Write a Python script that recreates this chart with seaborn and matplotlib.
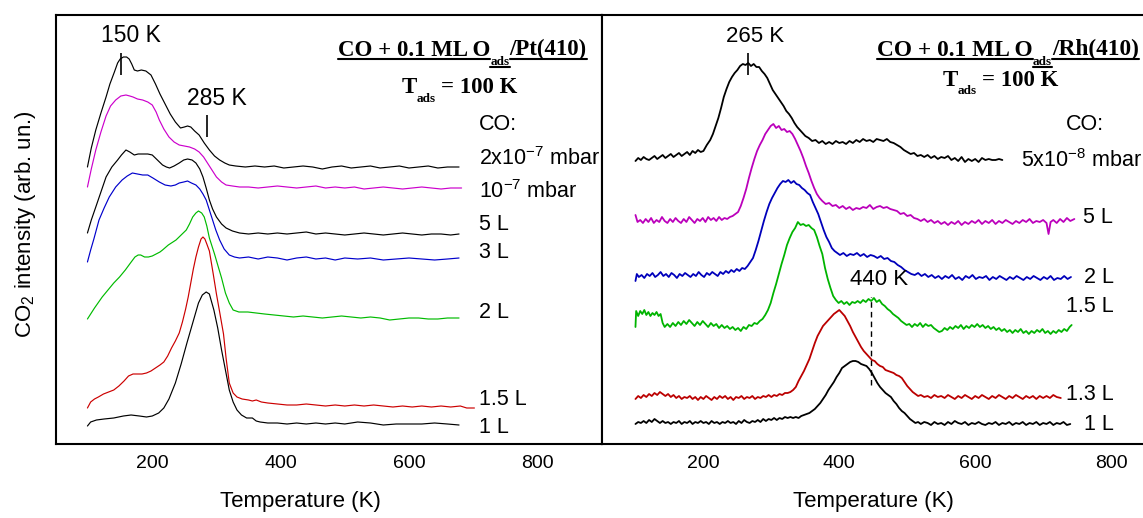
import matplotlib
matplotlib.use("Agg")
import matplotlib.pyplot as plt
import seaborn as sns
import numpy as np
from matplotlib.lines import Line2D

# ---------------- data (T in K, CO2 signal in arb. units, offset as displayed) -------------
# Pt(410) panel
pt_2e7 = [(99,277),(105,296),(112,314),(120,331),(128,347),(134,360),(141,372),(146,381),(150,385),(155,387),(160,387),(164,385),(168,380),(172,374),(177,373),(183,374),(190,373),(198,369),(205,360),(212,350),(220,340),(228,330),(236,322),(244,316),(250,317),(255,318),(260,317),(266,313),(273,309),(281,301),(289,294),(297,288),(305,284),(313,281),(320,279),(330,278),(345,277),(360,278),(375,277),(390,278),(405,276),(420,277),(435,278),(450,277),(465,275),(480,277),(495,278),(510,276),(525,277),(540,278),(555,276),(570,277),(585,278),(600,276),(615,277),(630,278),(645,276),(660,277),(678,277)]
pt_1e7 = [(99,257),(105,275),(112,294),(120,312),(128,328),(135,338),(143,344),(151,348),(159,349),(165,348),(170,347),(177,345),(185,344),(193,342),(200,339),(206,332),(211,324),(218,315),(226,307),(234,302),(242,299),(250,298),(258,297),(266,295),(273,292),(280,287),(286,281),(293,274),(300,267),(308,262),(315,259),(325,258),(336,257),(350,257),(365,256),(380,257),(395,258),(410,257),(425,256),(440,257),(455,258),(470,256),(485,257),(500,256),(515,257),(530,255),(545,256),(560,257),(575,256),(590,255),(605,256),(620,257),(635,256),(650,255),(665,256),(682,256)]
pt_5L = [(99,211),(105,224),(112,237),(120,252),(128,267),(137,277),(146,284),(152,289),(159,294),(165,292),(172,289),(178,290),(185,290),(193,290),(200,289),(208,284),(216,279),(222,277),(227,276),(234,278),(242,281),(249,284),(255,285),(262,284),(268,281),(274,275),(279,267),(284,256),(289,244),(294,235),(300,227),(308,220),(315,216),(325,213),(336,211),(350,210),(365,211),(380,210),(395,211),(410,210),(425,211),(440,212),(455,210),(470,211),(485,210),(500,209),(515,210),(530,211),(545,210),(560,209),(575,210),(590,211),(605,210),(620,209),(635,210),(650,210),(665,209),(678,210)]
pt_3L = [(99,182),(104,194),(109,205),(117,224),(125,236),(133,247),(143,257),(153,264),(161,268),(169,271),(177,270),(185,269),(193,269),(201,266),(211,262),(220,259),(229,258),(236,259),(242,261),(249,262),(255,263),(261,261),(268,259),(274,255),(279,250),(284,244),(289,234),(294,224),(299,214),(305,204),(312,195),(320,189),(328,187),(336,186),(350,187),(365,185),(380,187),(395,186),(410,184),(425,186),(440,187),(455,185),(470,186),(485,184),(500,186),(520,185),(540,186),(560,184),(580,185),(600,186),(620,185),(640,184),(660,185),(678,186)]
pt_2L = [(99,125),(110,136),(122,147),(131,154),(140,161),(149,167),(158,174),(166,181),(173,187),(178,189),(182,189),(188,187),(194,187),(200,188),(206,190),(212,192),(216,194),(225,199),(237,204),(245,209),(253,214),(258,220),(263,227),(268,231),(272,233),(277,231),(281,227),(285,218),(289,206),(293,198),(297,190),(302,179),(308,166),(314,151),(320,141),(326,134),(335,132),(349,132),(362,131),(375,130),(390,129),(405,128),(420,127),(435,128),(450,127),(465,126),(480,127),(495,128),(510,127),(525,126),(540,127),(555,126),(570,124),(585,125),(600,126),(615,126),(630,125),(645,125),(660,126),(678,126)]
pt_15L = [(99,36),(104,42),(110,45),(116,47),(124,50),(132,52),(140,54),(148,58),(156,63),(163,68),(170,70),(177,70),(184,70),(191,71),(198,73),(205,76),(212,79),(218,82),(224,88),(230,96),(236,103),(242,111),(247,122),(252,135),(256,147),(260,161),(264,175),(268,187),(272,197),(276,205),(279,207),(282,205),(285,200),(289,193),(295,170),(300,150),(305,132),(311,110),(315,86),(320,61),(326,51),(332,47),(340,45),(350,44),(356,43),(362,44),(370,42),(380,41),(395,40),(410,39),(425,39),(440,40),(455,39),(470,38),(485,39),(500,38),(515,39),(530,38),(545,39),(560,38),(575,37),(590,38),(605,37),(620,38),(635,37),(650,38),(665,37),(680,38),(690,36),(702,36)]
pt_1L = [(99,18),(104,22),(113,24),(125,25),(140,26),(155,28),(167,29),(180,28),(191,27),(200,28),(210,31),(218,36),(226,45),(236,61),(245,80),(254,101),(263,121),(272,141),(278,149),(284,152),(289,150),(296,134),(302,116),(308,94),(314,74),(320,54),(326,42),(332,34),(339,29),(347,26),(356,26),(362,23),(368,22),(380,21),(395,21),(410,20),(425,21),(440,20),(455,21),(470,20),(485,21),(500,20),(520,22),(540,21),(560,19),(580,20),(600,20),(620,20),(640,21),(660,20),(678,19)]

# Rh(410) panel
rh_5e8 = [(100,283),(104,286),(108,284),(112,287),(116,285),(120,284),(124,286),(128,288),(132,285),(136,287),(140,289),(144,286),(148,288),(152,290),(156,287),(160,289),(164,291),(168,288),(172,290),(176,292),(180,289),(184,293),(188,291),(192,294),(196,292),(200,293),(205,299),(210,304),(214,310),(218,318),(222,326),(226,336),(230,347),(234,355),(238,362),(242,367),(246,371),(250,374),(254,378),(258,380),(262,379),(266,381),(270,378),(274,380),(278,377),(282,377),(286,373),(290,370),(294,366),(298,360),(302,354),(306,350),(310,346),(314,342),(318,338),(322,333),(326,330),(330,326),(334,321),(338,317),(342,314),(346,311),(350,308),(355,306),(360,303),(365,304),(370,301),(375,303),(380,300),(385,302),(390,300),(395,303),(400,301),(405,302),(410,300),(415,303),(420,301),(425,304),(430,302),(435,305),(440,303),(445,304),(450,302),(455,305),(460,304),(465,303),(470,305),(475,302),(480,301),(485,299),(490,297),(495,294),(500,292),(505,290),(510,291),(515,288),(520,289),(525,287),(530,289),(535,286),(540,288),(545,285),(550,287),(555,286),(560,288),(565,284),(570,286),(575,283),(580,287),(585,282),(590,285),(595,283),(600,285),(605,282),(610,286),(615,284),(620,285),(625,284),(630,284),(635,285),(640,284)]
rh_5L = [(100,229),(103,222),(107,224),(111,221),(115,225),(119,222),(123,226),(127,221),(131,224),(135,222),(139,227),(143,223),(147,221),(151,225),(155,222),(159,226),(163,223),(167,221),(171,225),(175,222),(179,227),(183,224),(187,221),(191,225),(195,223),(199,226),(203,222),(207,227),(211,224),(215,226),(219,223),(223,227),(227,224),(231,226),(235,225),(239,227),(243,228),(247,230),(251,232),(255,238),(259,246),(263,255),(267,266),(271,276),(275,285),(279,293),(283,299),(287,304),(291,310),(295,314),(299,318),(303,320),(307,316),(311,318),(315,314),(319,315),(323,312),(327,313),(331,310),(335,305),(339,299),(343,293),(347,286),(351,278),(355,271),(359,263),(363,256),(367,250),(371,246),(375,243),(380,240),(385,241),(390,238),(395,239),(400,236),(405,238),(410,235),(415,237),(420,234),(425,236),(430,235),(435,237),(440,236),(445,239),(450,235),(455,237),(460,238),(465,236),(470,237),(475,235),(480,234),(485,233),(490,230),(495,231),(500,228),(505,229),(510,226),(515,225),(520,223),(525,225),(530,222),(535,224),(540,221),(545,223),(550,220),(555,222),(560,219),(565,222),(570,220),(575,223),(580,219),(585,222),(590,220),(595,223),(600,221),(605,224),(610,220),(615,223),(620,221),(625,224),(630,220),(635,223),(640,221),(645,224),(650,222),(655,220),(660,223),(665,221),(670,224),(675,222),(680,225),(685,221),(690,223),(695,222),(700,224),(705,221),(708,210),(711,222),(715,224),(720,221),(725,225),(730,222),(735,226),(740,223),(746,225)]
rh_2L = [(100,163),(102,170),(105,167),(109,169),(113,166),(117,170),(121,168),(125,171),(129,167),(133,169),(137,172),(141,168),(145,170),(149,167),(153,171),(157,169),(161,166),(165,170),(169,168),(173,171),(177,169),(181,167),(185,170),(189,168),(193,172),(197,169),(201,167),(205,171),(209,169),(213,172),(217,170),(221,168),(225,172),(229,170),(233,173),(237,171),(241,174),(245,172),(249,175),(253,173),(257,176),(261,175),(265,178),(269,182),(273,186),(277,194),(281,203),(285,213),(289,223),(293,232),(297,240),(301,246),(305,251),(309,256),(313,260),(317,263),(321,262),(325,264),(329,261),(333,263),(337,260),(341,259),(345,256),(349,254),(353,251),(357,249),(361,242),(365,236),(369,230),(373,222),(377,214),(381,207),(385,202),(389,196),(393,193),(397,191),(401,189),(406,191),(411,188),(416,190),(421,189),(426,191),(431,188),(436,190),(441,187),(446,189),(451,188),(456,186),(461,188),(466,185),(471,186),(476,183),(481,182),(486,179),(491,177),(496,174),(501,172),(506,170),(511,169),(516,171),(521,168),(526,170),(531,167),(536,169),(541,166),(546,168),(551,165),(556,168),(561,166),(566,169),(571,165),(576,167),(581,164),(586,168),(591,166),(596,169),(601,165),(606,167),(611,166),(616,168),(621,164),(626,167),(631,165),(636,168),(641,166),(646,164),(651,167),(656,165),(661,168),(666,166),(671,164),(676,167),(681,165),(686,168),(691,166),(696,164),(701,167),(706,165),(711,168),(716,164),(721,166),(726,165),(731,168),(736,165),(741,167)]
rh_15L = [(100,117),(101,133),(104,128),(107,133),(110,130),(113,134),(116,129),(119,132),(122,128),(125,131),(128,129),(131,132),(134,128),(137,130),(140,121),(143,117),(147,120),(151,117),(155,121),(159,118),(163,122),(167,119),(171,123),(175,120),(179,124),(183,121),(187,118),(191,122),(195,119),(199,123),(203,120),(207,117),(211,121),(215,118),(219,120),(223,116),(227,119),(231,116),(235,118),(239,115),(243,117),(247,114),(251,116),(255,113),(259,117),(263,115),(267,119),(271,118),(275,121),(279,120),(283,123),(287,125),(291,129),(295,134),(299,141),(303,151),(307,160),(311,170),(315,180),(319,189),(323,199),(327,206),(331,212),(335,216),(339,222),(343,219),(347,220),(351,218),(355,219),(359,216),(363,214),(367,207),(371,198),(375,190),(379,176),(383,165),(387,156),(391,148),(395,144),(399,141),(403,143),(407,140),(411,142),(415,139),(419,142),(423,141),(427,143),(431,141),(435,144),(439,142),(443,145),(447,143),(451,146),(455,142),(459,144),(463,140),(467,138),(471,135),(475,133),(479,130),(483,128),(487,126),(491,123),(495,121),(499,119),(503,120),(507,117),(511,120),(515,118),(519,121),(523,117),(527,120),(531,118),(535,119),(539,116),(543,114),(547,112),(551,113),(555,116),(559,114),(563,117),(567,115),(571,118),(575,116),(579,119),(583,115),(587,118),(591,116),(595,119),(599,117),(603,120),(607,117),(611,119),(615,116),(619,118),(623,115),(627,117),(631,114),(635,116),(639,113),(643,115),(647,112),(651,114),(655,111),(659,114),(663,112),(667,115),(671,111),(675,113),(679,110),(683,113),(687,111),(691,114),(695,112),(699,115),(703,111),(707,113),(711,110),(715,113),(719,111),(723,114),(727,112),(731,115),(735,113),(739,117),(742,119)]
rh_13L = [(100,45),(104,48),(108,46),(112,49),(116,47),(120,50),(124,48),(128,51),(132,49),(136,52),(140,50),(144,48),(148,50),(152,47),(156,49),(160,46),(164,48),(168,45),(172,47),(176,46),(180,48),(184,45),(188,47),(192,44),(196,47),(200,45),(204,48),(208,46),(212,44),(216,47),(220,45),(224,48),(228,46),(232,48),(236,45),(240,47),(244,44),(248,47),(252,46),(256,48),(260,45),(264,47),(268,46),(272,48),(276,45),(280,47),(284,46),(288,48),(292,47),(296,49),(300,47),(304,49),(308,48),(312,50),(316,49),(320,51),(324,51),(328,52),(332,54),(336,57),(340,63),(344,68),(348,73),(352,79),(356,85),(360,93),(364,101),(368,108),(372,113),(376,118),(380,121),(384,124),(388,127),(392,130),(396,132),(400,134),(404,131),(408,128),(412,123),(416,118),(420,112),(424,107),(428,102),(432,97),(436,93),(440,90),(444,87),(448,84),(452,83),(456,80),(460,78),(464,77),(468,74),(472,73),(476,72),(480,71),(484,69),(488,68),(492,66),(496,62),(500,58),(504,55),(508,52),(512,50),(516,48),(520,49),(525,47),(530,48),(535,46),(540,49),(545,47),(550,48),(555,46),(560,49),(565,47),(570,45),(575,48),(580,46),(585,49),(590,47),(595,45),(600,48),(605,46),(610,49),(615,47),(620,45),(625,48),(630,46),(635,49),(640,47),(645,45),(650,48),(655,46),(660,49),(665,47),(670,45),(675,48),(680,46),(685,48),(690,45),(695,48),(700,46),(705,48),(710,46),(715,49),(720,47),(726,46)]
rh_1L = [(100,20),(104,22),(108,21),(112,23),(116,21),(120,24),(124,22),(128,25),(132,23),(136,21),(140,23),(144,21),(148,22),(152,20),(156,22),(160,21),(164,23),(168,20),(172,22),(176,21),(180,23),(184,20),(188,22),(192,21),(196,23),(200,21),(204,22),(208,20),(212,23),(216,21),(220,22),(224,20),(228,22),(232,21),(236,23),(240,21),(244,22),(248,20),(252,23),(256,21),(260,24),(264,22),(268,21),(272,23),(276,22),(280,24),(284,22),(288,25),(292,23),(296,25),(300,24),(304,26),(308,24),(312,26),(316,25),(320,27),(324,26),(328,27),(332,26),(336,27),(340,26),(344,28),(348,29),(352,30),(356,31),(360,33),(364,35),(368,38),(372,41),(376,45),(380,49),(384,54),(388,58),(392,62),(396,67),(400,71),(404,76),(408,78),(412,80),(416,82),(420,83),(424,83),(428,82),(432,80),(436,79),(440,78),(444,75),(448,71),(452,66),(456,61),(460,57),(464,54),(468,51),(472,49),(476,47),(480,43),(484,40),(488,36),(492,33),(496,31),(500,28),(504,25),(508,23),(512,21),(516,22),(520,20),(525,22),(530,21),(535,19),(540,22),(545,20),(550,21),(555,19),(560,22),(565,20),(570,23),(575,21),(580,20),(585,22),(590,19),(595,21),(600,20),(605,22),(610,20),(615,19),(620,21),(625,20),(630,22),(635,19),(640,21),(645,20),(650,22),(655,19),(660,21),(665,20),(670,22),(675,19),(680,21),(685,20),(690,22),(695,19),(700,21),(705,20),(710,22),(715,19),(720,21),(725,20),(730,22),(735,19),(740,20)]

left_series = [pt_2e7, pt_1e7, pt_5L, pt_3L, pt_2L, pt_15L, pt_1L]
left_colors = ["black", "#CC00CC", "black", "#0000CC", "#00BB00", "#CC0000", "black"]
right_series = [rh_5e8, rh_5L, rh_2L, rh_15L, rh_13L, rh_1L]
right_colors = ["black", "#BB00BB", "#0000BB", "#00B400", "#BB0000", "black"]

left_labels = ["CO:", "2x10$^{-7}$ mbar", "10$^{-7}$ mbar", "5 L", "3 L", "2 L", "1.5 L", "1 L"]
right_labels = ["CO:", "5x10$^{-8}$ mbar", "5 L", "2 L", "1.5 L", "1.3 L", "1 L"]
x_ticks = [200, 400, 600, 800]
x_minor = [100, 300, 500, 700]

# ---------------- style ----------------
sns.set_style("white")
plt.rcParams['font.family'] = ['Liberation Sans', 'DejaVu Sans']
plt.rcParams['mathtext.fontset'] = 'custom'
plt.rcParams['mathtext.rm'] = 'Liberation Sans'
plt.rcParams['mathtext.it'] = 'Liberation Sans:italic'
plt.rcParams['mathtext.bf'] = 'Liberation Sans:bold'
plt.rcParams['axes.edgecolor'] = 'black'
plt.rcParams['xtick.color'] = 'black'
plt.rcParams['ytick.color'] = 'black'
plt.rcParams['text.color'] = 'black'
plt.rcParams['axes.labelcolor'] = 'black'

W, H = 1143, 518
fig = plt.figure(figsize=(W / 100, H / 100), dpi=100)
fig.patch.set_facecolor('white')

def fx(px):
    return px / W

def fy(py):
    return (H - py) / H

ax1 = fig.add_axes([fx(56), fy(444), (601.5 - 56) / W, 429 / H])
ax2 = fig.add_axes([fx(601.5), fy(444), (1179 - 601.5) / W, 429 / H])

for ax, ytick_start, ytick_step in ((ax1, 21.3, 29.2), (ax2, 14.0, 19.07)):
    ax.set_facecolor('white')
    ax.set_xlim(50, 900)
    ax.set_ylim(0, 429)
    ax.set_xticks(x_ticks)
    ax.set_xticks(x_minor, minor=True)
    ax.set_yticks(np.arange(ytick_start, 429, ytick_step))
    ax.tick_params(axis='x', which='major', direction='in', length=8, width=1.0,
                   labelsize=14, pad=8, top=False)
    ax.tick_params(axis='x', which='minor', direction='in', length=4.5, width=1.0, top=False)
    ax.tick_params(axis='y', which='major', direction='in', length=2.5, width=0.8,
                   labelleft=False, right=False)
    for sp in ax.spines.values():
        sp.set_visible(True)
        sp.set_linewidth(1.5)
        sp.set_color('black')

for data, c in zip(left_series, left_colors):
    T = [p[0] for p in data]
    I = [p[1] for p in data]
    sns.lineplot(x=T, y=I, ax=ax1, color=c, linewidth=0.85, estimator=None, sort=False)

for data, c in zip(right_series, right_colors):
    T = [p[0] for p in data]
    I = [p[1] for p in data]
    sns.lineplot(x=T, y=I, ax=ax2, color=c, linewidth=1.3, estimator=None, sort=False)

# axis labels
ax1.set_ylabel("")
ax2.set_ylabel("")
ax1.set_xlabel("Temperature (K)", fontsize=16)
ax1.xaxis.set_label_coords((300 - 56) / 545.5, -0.11)
ax2.set_xlabel("Temperature (K)", fontsize=16)
ax2.xaxis.set_label_coords((873 - 601.5) / 577.5, -0.11)
fig.text(fx(25.5), fy(224), "CO$_2$ intensity (arb. un.)", fontsize=16,
         rotation=90, ha='center', va='center')

# peak markers
ax1.vlines(152, 369, 391, color='black', lw=1.2)
ax1.vlines(286, 307, 329, color='black', lw=1.2)
ax2.vlines(265.6, 369, 391, color='black', lw=1.2)
ax2.vlines(447, 59, 147, color='black', lw=1.0, linestyles=(0, (4, 3)))

def ftext(px, py, s, size, **kw):
    fig.text(fx(px), fy(py), s, fontsize=size, va='baseline', ha='left', **kw)

ftext(101, 41.5, "150 K", 16.5)
ftext(187, 105, "285 K", 16.5)
ftext(726, 41.5, "265 K", 16)
ftext(850, 285, "440 K", 16)

# series labels
left_pos = [(479, 130), (479, 165), (479, 198.5), (479, 229.5), (479, 258), (479, 318.5), (479, 405), (479, 433)]
for (px, py), s in zip(left_pos, left_labels):
    ftext(px, py, s, 15.5)
right_pos = [(1065.5, 130), (1020.5, 167), (1083, 223), (1084, 283), (1065.5, 312), (1065.5, 400), (1084, 430)]
for (px, py), s in zip(right_pos, right_labels):
    ftext(px, py, s, 15.5)

# bold serif headers with subscripts and underlines
renderer = fig.canvas.get_renderer()

def rich(x0, base, pieces):
    cur = x0
    for s, size, dy, ul, gap in pieces:
        cur += gap
        t = fig.text(fx(cur), fy(base + dy), s, fontsize=size, va='baseline', ha='left',
                     family=['Liberation Serif', 'DejaVu Serif'], weight='bold')
        bb = t.get_window_extent(renderer)
        if ul is not None:
            yy = base + dy + ul
            fig.add_artist(Line2D([fx(cur), fx(cur + bb.width)], [fy(yy), fy(yy)],
                                  transform=fig.transFigure, color='black', lw=1.5))
        cur += bb.width

rich(338, 55.5, [("CO + 0.1 ML O", 16.5, 0, 3.8, 0), ("ads", 9.5, 9.5, 2.0, 0),
                 ("/Pt(410)", 16.5, 0, 3.8, 0)])
rich(401.5, 92.7, [("T", 16.5, 0, None, 0), ("ads", 9.5, 9.0, None, 0),
                   ("= 100 K", 16.5, 0, None, 5)])
rich(877, 55.5, [("CO + 0.1 ML O", 16.8, 0, 3.8, 0), ("ads", 9.5, 9.5, 2.0, 0),
                 ("/Rh(410)", 16.8, 0, 3.8, 0)])
rich(942.5, 85.5, [("T", 16.5, 0, None, 0), ("ads", 9.5, 9.0, None, 0),
                   ("= 100 K", 16.5, 0, None, 5)])

fig.savefig("out.png", dpi=100, facecolor='white')
